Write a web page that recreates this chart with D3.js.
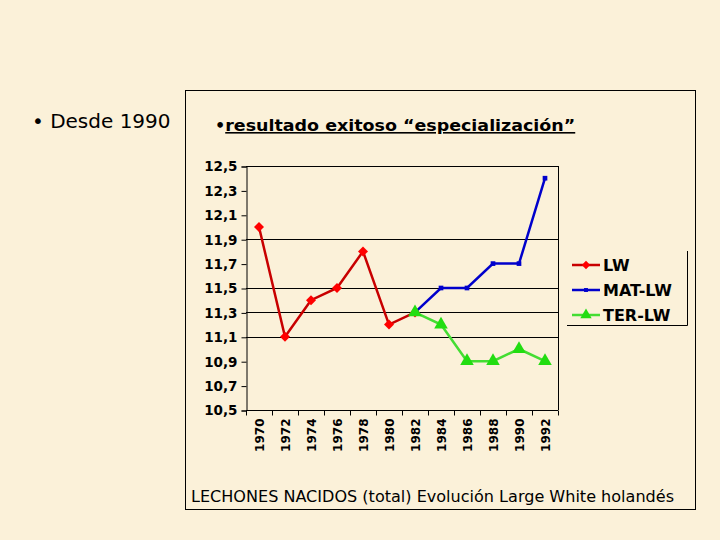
<!DOCTYPE html>
<html>
  <head>
    <meta charset="utf-8">
    <title>LECHONES NACIDOS</title>
    <script src="https://d3js.org/d3.v7.min.js"></script>
    <style>
      body { margin: 0; background: #fbf1d9; }
      svg { display: block; }
      text { font-family: "DejaVu Sans", Verdana, sans-serif; fill: #000; }
    </style>
  </head>
  <body>
    <svg id="chart" width="720" height="540"></svg>
    <script>
      // data
      var years = ["1970", "1972", "1974", "1976", "1978", "1980", "1982", "1984", "1986", "1988", "1990", "1992"];
      var lw = [12.0, 11.1, 11.4, 11.5, 11.8, 11.2, 11.3, null, null, null, null, null];
      var matLw = [null, null, null, null, null, null, 11.3, 11.5, 11.5, 11.7, 11.7, 12.4];
      var terLw = [null, null, null, null, null, null, 11.3, 11.2, 10.9, 10.9, 11.0, 10.9];
      var yTicks = [10.5, 10.7, 10.9, 11.1, 11.3, 11.5, 11.7, 11.9, 12.1, 12.3, 12.5];
      var gridValues = [11.1, 11.3, 11.5, 11.9];
      var seriesNames = ["LW", "MAT-LW", "TER-LW"];

      var series = [
        { name: seriesNames[0], values: lw, line: "#c80000", fill: "#ff0000", marker: d3.symbolSquare, size: 50, rot: 45 },
        { name: seriesNames[1], values: matLw, line: "#0000cc", fill: "#0000cc", marker: d3.symbolSquare, size: 22, rot: 0 },
        { name: seriesNames[2], values: terLw, line: "#44dd33", fill: "#22dd11", marker: d3.symbolTriangle, size: 80, rot: 0 }
      ];

      var svg = d3.select("#chart");

      // left bullet text
      svg.append("text")
        .attr("x", 32).attr("y", 128)
        .style("font-size", "20px")
        .text("\u2022 Desde 1990");

      // outer frame
      svg.append("rect")
        .attr("x", 185.5).attr("y", 90.5)
        .attr("width", 510).attr("height", 419)
        .attr("fill", "none").attr("stroke", "#000");

      // chart heading
      var head = svg.append("text")
        .attr("x", 215).attr("y", 131)
        .style("font-size", "16px")
        .style("font-weight", "bold");
      head.append("tspan").text("\u2022");
      head.append("tspan")
        .style("text-decoration", "underline")
        .attr("textLength", 350)
        .attr("lengthAdjust", "spacingAndGlyphs")
        .text("resultado exitoso \u201cespecializaci\u00f3n\u201d");

      var margin = { left: 246, right: 558, top: 166, bottom: 410 };

      var x = d3.scaleBand()
        .domain(years)
        .range([margin.left, margin.right]);
      var y = d3.scaleLinear()
        .domain([10.5, 12.5])
        .range([margin.bottom, margin.top]);

      var fmt = function(d) { return d3.format(".1f")(d).replace(".", ","); };

      // gridlines
      svg.append("g")
        .selectAll("line")
        .data(gridValues.concat([12.5]))
        .join("line")
          .attr("x1", margin.left).attr("x2", margin.right)
          .attr("y1", function(d) { return Math.round(y(d)) + 0.5; })
          .attr("y2", function(d) { return Math.round(y(d)) + 0.5; })
          .attr("stroke", "#000");
      svg.append("line")
        .attr("x1", margin.right + 0.5).attr("x2", margin.right + 0.5)
        .attr("y1", margin.top).attr("y2", margin.bottom)
        .attr("stroke", "#000");

      // y axis
      var yAxis = svg.append("g")
        .attr("transform", "translate(" + (margin.left + 0.5) + ",0.5)")
        .call(d3.axisLeft(y).tickValues(yTicks).tickFormat(fmt).tickSize(5).tickPadding(4));
      yAxis.select(".domain").attr("stroke", "#000");
      yAxis.selectAll("text")
        .style("font-size", "13.5px")
        .style("font-weight", "bold")
        .style("font-family", "\"DejaVu Sans\", Verdana, sans-serif");

      // x axis (ticks between categories)
      var xAxis = svg.append("g")
        .attr("transform", "translate(0," + (margin.bottom + 0.5) + ")");
      xAxis.append("line")
        .attr("x1", margin.left).attr("x2", margin.right)
        .attr("stroke", "#000");
      xAxis.selectAll(".tick")
        .data(years.concat(["end"]))
        .join("line")
          .attr("class", "tick")
          .attr("x1", function(d, i) { return Math.round(margin.left + i * x.step()) + 0.5; })
          .attr("x2", function(d, i) { return Math.round(margin.left + i * x.step()) + 0.5; })
          .attr("y1", 0).attr("y2", 5)
          .attr("stroke", "#000");
      xAxis.selectAll("text")
        .data(years)
        .join("text")
          .attr("transform", function(d) {
            return "translate(" + (x(d) + x.bandwidth() / 2 + 4.5) + ",8) rotate(-90)";
          })
          .attr("text-anchor", "end")
          .style("font-size", "12px")
          .style("font-weight", "bold")
          .text(function(d) { return d; });

      // lines and markers
      series.forEach(function(s) {
        var pts = years.map(function(yr, i) { return { year: yr, value: s.values[i] }; })
          .filter(function(d) { return d.value != null; });
        var line = d3.line()
          .x(function(d) { return x(d.year) + x.bandwidth() / 2; })
          .y(function(d) { return y(d.value); });
        svg.append("path")
          .attr("d", line(pts))
          .attr("fill", "none")
          .attr("stroke", s.line)
          .attr("stroke-width", 2.5);
        svg.append("g")
          .selectAll("path")
          .data(pts)
          .join("path")
            .attr("d", d3.symbol().type(s.marker).size(s.size))
            .attr("transform", function(d) {
              return "translate(" + (x(d.year) + x.bandwidth() / 2) + "," + y(d.value) + ") rotate(" + s.rot + ")";
            })
            .attr("fill", s.fill);
      });

      // legend
      var legend = svg.append("g");
      legend.append("path")
        .attr("d", "M567,325.5H687.5V251")
        .attr("fill", "none")
        .attr("stroke", "#000");
      var rows = legend.selectAll("g")
        .data(series)
        .join("g")
          .attr("transform", function(d, i) { return "translate(572," + (265 + i * 25) + ")"; });
      rows.append("line")
        .attr("x1", 0).attr("x2", 28)
        .attr("stroke", function(d) { return d.line; })
        .attr("stroke-width", 2.5);
      rows.append("path")
        .attr("d", function(d) { return d3.symbol().type(d.marker).size(d.size * 0.7)(); })
        .attr("transform", function(d) { return "translate(14,0) rotate(" + d.rot + ")"; })
        .attr("fill", function(d) { return d.fill; });
      rows.append("text")
        .attr("x", 31).attr("y", 6)
        .style("font-size", "16px")
        .style("font-weight", "bold")
        .text(function(d) { return d.name; });

      // caption
      svg.append("text")
        .attr("x", 191).attr("y", 502)
        .attr("textLength", 483)
        .attr("lengthAdjust", "spacingAndGlyphs")
        .style("font-size", "16px")
        .text("LECHONES NACIDOS (total) Evoluci\u00f3n Large White holand\u00e9s");
    </script>
  </body>
</html>
